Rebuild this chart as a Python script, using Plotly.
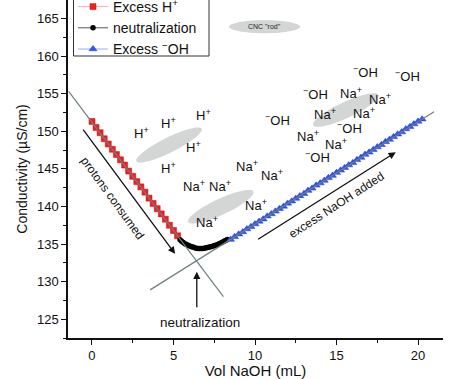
import math
import plotly.graph_objects as go

# ---------------- data ----------------
h_x = [0, 0.25, 0.5, 0.75, 1.0, 1.25, 1.5, 1.75, 2.0, 2.25, 2.5, 2.75, 3.0, 3.25,
       3.5, 3.75, 4.0, 4.25, 4.5, 4.75, 5.0, 5.25]
h_y = [151.3, 150.5, 149.8, 149.0, 148.3, 147.6, 146.9, 146.2, 145.5, 144.7, 144.0,
       143.3, 142.6, 141.9, 141.1, 140.4, 139.7, 139.0, 138.3, 137.5, 136.8, 136.1]

n_x = [5.4, 5.5, 5.6, 5.7, 5.8, 5.9, 6.0, 6.1, 6.2, 6.3, 6.4, 6.5, 6.6, 6.7, 6.8,
       6.9, 7.0, 7.1, 7.2, 7.3, 7.4, 7.5, 7.6, 7.7, 7.8, 7.9, 8.0, 8.1, 8.2, 8.3]
n_y = [135.55, 135.35, 135.2, 135.05, 134.95, 134.85, 134.75, 134.65, 134.6, 134.5,
       134.45, 134.4, 134.4, 134.4, 134.4, 134.45, 134.5, 134.55, 134.6, 134.65,
       134.7, 134.8, 134.85, 134.95, 135.05, 135.15, 135.25, 135.35, 135.45, 135.6]

oh_x = [8.5, 8.75, 9.0, 9.25, 9.5, 9.75, 10.0, 10.25, 10.5, 10.75, 11.0, 11.25,
        11.5, 11.75, 12.0, 12.25, 12.5, 12.75, 13.0, 13.25, 13.5, 13.75, 14.0,
        14.25, 14.5, 14.75, 15.0, 15.25, 15.5, 15.75, 16.0, 16.25, 16.5, 16.75,
        17.0, 17.25, 17.5, 17.75, 18.0, 18.25, 18.5, 18.75, 19.0, 19.25, 19.5,
        19.75, 20.0, 20.25]
oh_y = [135.6, 135.95, 136.3, 136.6, 137.0, 137.3, 137.65, 138.0, 138.3, 138.7,
        139.0, 139.35, 139.7, 140.0, 140.4, 140.7, 141.05, 141.4, 141.7, 142.1,
        142.4, 142.8, 143.1, 143.45, 143.8, 144.1, 144.5, 144.8, 145.15, 145.5,
        145.8, 146.2, 146.5, 146.9, 147.2, 147.55, 147.9, 148.2, 148.6, 148.9,
        149.25, 149.6, 149.9, 150.3, 150.6, 150.95, 151.3, 151.6]

fit_acid_x = [-1.43, 8.06]
fit_acid_y = [155.3, 128.0]
fit_base_x = [3.57, 20.98]
fit_base_y = [128.9, 152.6]

x_ticks = [0, 5, 10, 15, 20]
y_ticks = [125, 130, 135, 140, 145, 150, 155, 160, 165]

# ---------------- layout constants ----------------
W, H = 450, 379
ML, MR, MT, MB = 68, 7, 0, 41
XR = [-1.47, 21.53]
YR = [122.5, 167.45]
PW, PH = W - ML - MR, H - MT - MB
FONT = "Liberation Sans, Arial, sans-serif"


def px2x(px):
    return XR[0] + (px - ML) / PW * (XR[1] - XR[0])


def py2y(py):
    return YR[1] - (py - MT) / PH * (YR[1] - YR[0])


def ellipse_path(cx, cy, a, b, ang_deg, n=60):
    th = math.radians(ang_deg)
    pts = []
    for i in range(n):
        t = 2 * math.pi * i / n
        ex = cx + a * math.cos(t) * math.cos(th) - b * math.sin(t) * math.sin(th)
        ey = cy - (a * math.cos(t) * math.sin(th) + b * math.sin(t) * math.cos(th))
        pts.append((px2x(ex), py2y(ey)))
    return "M " + " L ".join(f"{x:.4f},{y:.4f}" for x, y in pts) + " Z"


fig = go.Figure()

fig.add_trace(go.Scatter(
    x=h_x, y=h_y, mode="lines+markers", name="Excess H<sup>+</sup>",
    line=dict(color="#ffaaaa", width=1),
    marker=dict(symbol="square", size=6, color="#f41e1e",
                line=dict(color="#c81010", width=0.5))))
fig.add_trace(go.Scatter(
    x=n_x, y=n_y, mode="lines+markers", name="neutralization",
    line=dict(color="#555555", width=1),
    marker=dict(symbol="circle", size=5.5, color="#000000")))
fig.add_trace(go.Scatter(
    x=oh_x, y=oh_y, mode="lines+markers", name="Excess <sup>−</sup>OH",
    line=dict(color="#9aa8ff", width=1),
    marker=dict(symbol="triangle-up", size=7, color="#2f55f5",
                line=dict(color="#1a3ad0", width=0.5))))

for fx, fy in [(fit_acid_x, fit_acid_y), (fit_base_x, fit_base_y)]:
    fig.add_trace(go.Scatter(x=fx, y=fy, mode="lines", showlegend=False,
                             hoverinfo="skip",
                             line=dict(color="#6f8080", width=1.2)))

shapes = []
for cx, cy, a, b, ang in [(169, 145, 36.5, 7.5, 26.5),
                          (220.8, 206.7, 36, 8, 25),
                          (345.8, 110, 36, 8, 25),
                          (264.5, 26.7, 35.5, 6.5, 0)]:
    shapes.append(dict(type="path", xref="x", yref="y",
                       path=ellipse_path(cx, cy, a, b, ang),
                       fillcolor="#d4d6d6", line=dict(width=0), layer="below"))

# legend frame (top runs off the picture, as in the reference)
shapes.append(dict(type="rect", xref="paper", yref="paper",
                   x0=(73.5 - ML) / PW, x1=(209 - ML) / PW,
                   y0=1 - 56 / PH, y1=1 + 6 / PH,
                   fillcolor="white", line=dict(color="#333333", width=1),
                   layer="above"))

ann = []
ion_font = dict(family=FONT, size=13, color="#111111")
h_pos = [(3.02, 149.75), (4.67, 151.1), (6.82, 152.1), (6.20, 147.9), (4.67, 145.1)]
na_pos = [(6.26, 142.7), (7.86, 142.7), (7.06, 137.9), (10.06, 140.2), (9.51, 145.4),
          (11.04, 144.2), (13.25, 149.35), (14.96, 148.3), (14.29, 152.3),
          (16.67, 152.4), (15.88, 155.1), (17.65, 154.3)]
oh_pos = [(16.8, 157.9), (19.37, 157.3), (13.73, 154.9), (11.35, 151.5),
          (15.82, 150.4), (13.86, 146.6)]
for x, y in h_pos:
    ann.append(dict(x=x, y=y, text="H<sup>+</sup>", showarrow=False, font=ion_font))
for x, y in na_pos:
    ann.append(dict(x=x, y=y, text="Na<sup>+</sup>", showarrow=False, font=ion_font))
for x, y in oh_pos:
    ann.append(dict(x=x, y=y, text="<sup>−</sup>OH", showarrow=False, font=ion_font))

ann.append(dict(x=px2x(264.5), y=py2y(26.7), text='CNC "rod"', showarrow=False,
                font=dict(family=FONT, size=7, color="#222222")))

# arrows
for (hx, hy, tx, ty) in [(5.10, 133.7, -0.61, 150.4),
                         (18.63, 147.2, 10.1, 135.5),
                         (6.43, 131.3, 6.43, 126.4)]:
    ann.append(dict(x=hx, y=hy, ax=tx, ay=ty, xref="x", yref="y",
                    axref="x", ayref="y", text="", showarrow=True,
                    arrowhead=2, arrowsize=1.1, arrowwidth=1.3,
                    arrowcolor="#111111", standoff=0, startstandoff=0))

ann.append(dict(x=1.25, y=141.1, text="protons consumed", showarrow=False,
                textangle=54, font=dict(family=FONT, size=12, color="#111111")))
ann.append(dict(x=15.0, y=140.2, text="excess NaOH added", showarrow=False,
                textangle=-33, font=dict(family=FONT, size=12, color="#111111")))
ann.append(dict(x=6.63, y=124.6, text="neutralization", showarrow=False,
                font=dict(family=FONT, size=13.5, color="#111111")))

axis_common = dict(showgrid=False, zeroline=False, showline=True,
                   linecolor="#111111", linewidth=1.5, ticks="outside",
                   ticklen=5, tickwidth=1.2, tickcolor="#111111",
                   tickfont=dict(family=FONT, size=13, color="#111111"),
                   mirror=False)

fig.update_layout(
    width=W, height=H,
    margin=dict(l=ML, r=MR, t=MT, b=MB, autoexpand=False),
    paper_bgcolor="white", plot_bgcolor="white",
    font=dict(family=FONT, color="#111111"),
    shapes=shapes, annotations=ann,
    xaxis=dict(range=XR, tickvals=x_ticks, ticktext=[str(v) for v in x_ticks],
               minor=dict(dtick=2.5, tick0=0, ticks="outside", ticklen=3,
                          tickwidth=1, tickcolor="#111111"),
               title=dict(text="Vol NaOH (mL)", standoff=8,
                          font=dict(family=FONT, size=15, color="#111111")),
               **axis_common),
    yaxis=dict(range=YR, tickvals=y_ticks, ticktext=[str(v) for v in y_ticks],
               minor=dict(dtick=2.5, tick0=0, ticks="outside", ticklen=3,
                          tickwidth=1, tickcolor="#111111"),
               title=dict(text="Conductivity (µS/cm)", standoff=6,
                          font=dict(family=FONT, size=14, color="#111111")),
               **axis_common),
    legend=dict(x=(73 - ML) / PW, y=1 - 65 / PH, xanchor="left", yanchor="bottom",
                borderwidth=0, bgcolor="rgba(0,0,0,0)",
                font=dict(family=FONT, size=14, color="#111111"),
                tracegroupgap=0, itemwidth=30),
    showlegend=True,
)

fig.write_html("out.html", config={"displayModeBar": False},
               post_script="document.body.style.margin='0';document.body.style.overflow='hidden';")
